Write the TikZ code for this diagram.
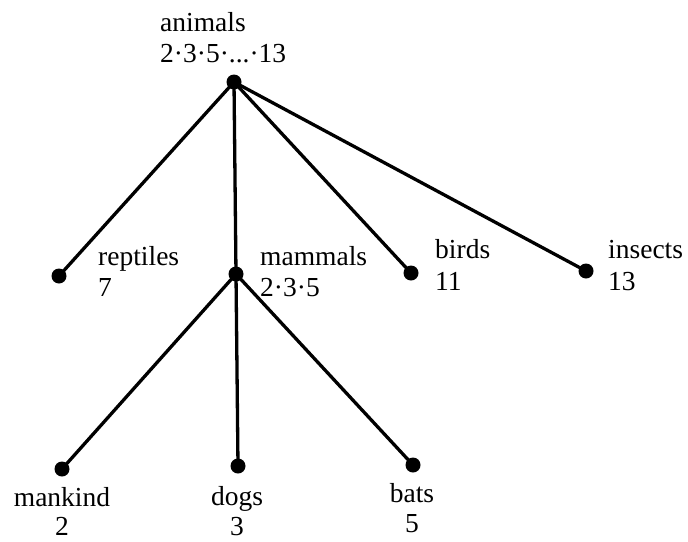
\documentclass[tikz,border=0pt]{standalone}
\usepackage{fontspec}
\setmainfont{Liberation Serif}
\begin{document}
\begin{tikzpicture}[x=1pt,y=-1pt,
  dot/.style={circle,fill=black,inner sep=0pt,minimum size=15pt},
  edge/.style={line width=3.3pt},
  lab/.style={inner sep=0pt,font=\fontsize{27.5}{32}\selectfont}]
\useasboundingbox (0,0) rectangle (688,541);
\node[dot] (animals) at (234,82) {};
\node[dot] (reptiles) at (59,276) {};
\node[dot] (mammals) at (236,274) {};
\node[dot] (birds) at (411,273) {};
\node[dot] (insects) at (586,271) {};
\node[dot] (mankind) at (62,469) {};
\node[dot] (dogs) at (238,466) {};
\node[dot] (bats) at (413,465) {};
\foreach \t in {reptiles,mammals,birds,insects} \draw[edge] (animals.center) -- (\t.center);
\foreach \t in {mankind,dogs,bats} \draw[edge] (mammals.center) -- (\t.center);
\node[lab,anchor=base west] (la1) at (160,31) {animals};
\node[lab,anchor=base west] (la2) at (160,62) {2·3·5·...·13};
\node[lab,anchor=base west] (lr1) at (98,265) {reptiles};
\node[lab,anchor=base west] (lr2) at (98,296) {7};
\node[lab,anchor=base west] (lm1) at (260,265) {mammals};
\node[lab,anchor=base west] (lm2) at (260,296) {2·3·5};
\node[lab,anchor=base west] (lb1) at (435,258) {birds};
\node[lab,anchor=base west] (lb2) at (435,290) {11};
\node[lab,anchor=base west] (li1) at (608,258) {insects};
\node[lab,anchor=base west] (li2) at (608,290) {13};
\node[lab,anchor=base] (lk1) at (62,506) {mankind};
\node[lab,anchor=base] (lk2) at (62,535) {2};
\node[lab,anchor=base] (ld1) at (237,505) {dogs};
\node[lab,anchor=base] (ld2) at (237,535) {3};
\node[lab,anchor=base] (lt1) at (412,502) {bats};
\node[lab,anchor=base] (lt2) at (412,532) {5};
\end{tikzpicture}
\end{document}
